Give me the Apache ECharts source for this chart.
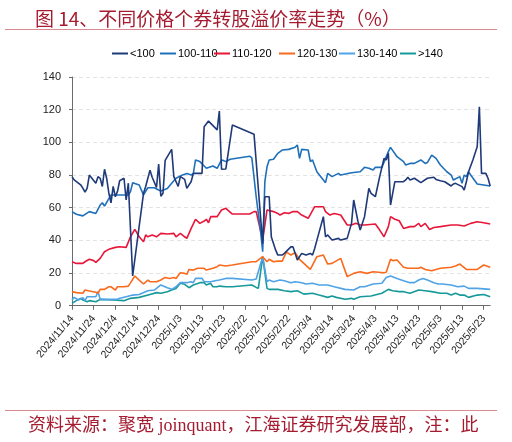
<!DOCTYPE html>
<html><head><meta charset="utf-8">
<script src="https://cdn.jsdelivr.net/npm/echarts@6/dist/echarts.min.js"></script>
<style>html,body{margin:0;padding:0;background:#fff}#c{width:512px;height:442px}</style>
</head><body><div id="c"></div>
<script>
// Dates are "M/D" (Nov/Dec = 2024, others = 2025); values are premium rates (%)
const xTickLabels = ['11/14','11/24','12/4','12/14','12/24','1/3','1/13','1/23','2/2','2/12','2/22','3/4','3/14','3/24','4/3','4/13','4/23','5/3','5/13','5/23'];
const xEnd = '5/26';
const seriesNames = ['<100','100-110','110-120','120-130','130-140','>140'];

const lt100 = [['11/14',79],['11/15',77],['11/18',74],['11/19',72],['11/20',69.5],['11/21',72],['11/22',80],['11/25',75],['11/26',79],['11/27',78],['11/28',73],['11/29',83.5],['11/30',78],['12/1',69],['12/2',63],['12/3',73],['12/4',66.7],['12/5',70],['12/6',76.5],['12/8',78],['12/9',64.7],['12/10',75],['12/12',18.2],['12/17',68.8],['12/18',73],['12/20',83],['12/21',78.6],['12/23',72.4],['12/24',86.7],['12/25',67],['12/26',68.8],['12/27',89],['12/30',95.7],['12/31',79],['1/2',73],['1/3',79],['1/5',77.3],['1/6',71.8],['1/8',76],['1/9',81],['1/13',81],['1/14',109.6],['1/16',113],['1/20',107.6],['1/21',119.2],['1/22',83.5],['1/24',83.7],['1/27',110.6],['2/6',105],['2/10',38],['2/11',66.7],['2/13',66.7],['2/14',42],['2/16',34],['2/17',31],['2/19',31],['2/20',32],['2/23',36],['2/24',36],['2/26',28],['2/28',32],['3/2',31],['3/4',32],['3/5',31],['3/6',35],['3/7',40],['3/10',54.5],['3/11',42.2],['3/12',43.3],['3/14',40.2],['3/17',41.2],['3/18',40.2],['3/21',41.2],['3/23',50.4],['3/24',64.7],['3/26',51.4],['3/27',46.3],['3/29',54.5],['3/31',71.8],['4/1',68.8],['4/3',66.7],['4/5',79],['4/7',90.2],['4/8',89.2],['4/9',93.3],['4/10',61.6],['4/12',75.9],['4/13',75.9],['4/16',75.9],['4/17',77],['4/18',78.6],['4/19',77],['4/21',78],['4/24',75.3],['4/27',78],['4/30',78.6],['5/1',77.3],['5/3',76.5],['5/5',75.9],['5/8',73.3],['5/9',74.5],['5/10',74.9],['5/13',72.9],['5/14',70.8],['5/15',75.9],['5/16',82],['5/18',89.2],['5/20',97.3],['5/21',121.8],['5/22',81],['5/24',81],['5/25',78],['5/26',73.3]];

const r100_110 = [['11/14',57.6],['11/16',56],['11/19',55],['11/22',57.6],['11/25',56.5],['11/27',61.6],['11/28',63],['11/29',61],['12/2',67.8],['12/10',67.8],['12/11',69.8],['12/12',75.3],['12/15',73.9],['12/17',67.8],['12/19',72.2],['12/22',72.2],['12/24',70.8],['12/25',70.2],['12/28',71.8],['12/30',74.9],['1/1',78],['1/4',80],['1/6',81],['1/8',80],['1/9',81],['1/10',89.2],['1/12',88.2],['1/14',85.5],['1/15',84.1],['1/17',85.1],['1/18',85.5],['1/20',84.1],['1/22',89.2],['1/23',88.8],['1/24',88.2],['1/26',89.6],['2/4',91.5],['2/5',90.5],['2/7',66.7],['2/9',46],['2/10',33],['2/11',76],['2/12',85],['2/13',89.2],['2/15',89.6],['2/17',93.3],['2/19',95.3],['2/22',95.7],['2/25',97],['2/26',98.4],['2/27',90.2],['2/28',95.7],['3/3',95.3],['3/4',88.2],['3/5',89.2],['3/7',82],['3/10',76.9],['3/11',75.3],['3/12',81],['3/14',79],['3/17',81],['3/18',80],['3/23',81.4],['3/27',82],['3/29',84.7],['3/31',84.1],['4/2',83],['4/3',84.7],['4/6',84.7],['4/9',94.3],['4/10',96.9],['4/13',91.2],['4/16',88.2],['4/17',86.1],['4/19',87.1],['4/21',87.1],['4/24',89.2],['4/26',87.1],['4/27',87.6],['4/29',92.2],['5/1',90.2],['5/3',86.1],['5/6',82],['5/8',80],['5/9',76.9],['5/12',79],['5/13',74.9],['5/14',80],['5/15',79],['5/16',82],['5/17',80],['5/20',74.5],['5/23',73.9],['5/26',73.3]];

const r110_120 = [['11/14',26.9],['11/16',25.9],['11/19',25.9],['11/20',26.9],['11/22',28.4],['11/24',27.6],['11/25',26.5],['11/27',29],['11/29',33],['12/1',34.5],['12/4',35.7],['12/6',36.1],['12/9',35.7],['12/11',42.2],['12/13',46.7],['12/15',42.2],['12/17',39.2],['12/18',43.3],['12/19',42.2],['12/21',43.3],['12/23',42.2],['12/25',44.3],['12/28',43.9],['12/31',44.3],['1/1',42.2],['1/3',44.3],['1/5',42.2],['1/6',41.2],['1/8',47.3],['1/10',52.9],['1/12',50.4],['1/14',51.8],['1/15',52.9],['1/16',50.8],['1/17',54.5],['1/20',54.5],['1/22',58.6],['1/24',59.6],['1/27',56.1],['2/4',56.1],['2/6',57.6],['2/7',57.6],['2/10',40],['2/12',58.6],['2/15',57.6],['2/17',56.5],['2/18',55.5],['2/20',56.9],['2/22',56.5],['2/24',57.6],['2/26',57.6],['2/28',55.5],['3/3',53.5],['3/6',60.6],['3/10',60.6],['3/11',57.6],['3/13',55.5],['3/15',56.5],['3/18',55.5],['3/21',49.4],['3/23',49.4],['3/25',50.4],['3/27',49.4],['3/29',49.4],['4/3',50],['4/5',46.3],['4/7',42.2],['4/9',48.4],['4/10',54.5],['4/12',52.9],['4/14',52],['4/16',47.3],['4/19',48.4],['4/21',48.4],['4/23',50.4],['4/24',48.4],['4/26',50.4],['4/28',46.7],['4/30',47.9],['5/3',48.4],['5/8',49.4],['5/11',49.4],['5/14',48.8],['5/17',50.4],['5/20',51.4],['5/23',50.8],['5/26',50]];

const r120_130 = [['11/14',8.6],['11/16',8],['11/19',7.6],['11/20',9.6],['11/22',9],['11/25',8.2],['11/26',7.6],['11/27',10],['11/29',10],['12/1',11.6],['12/2',11.6],['12/4',9.6],['12/5',11.6],['12/8',11.6],['12/10',12],['12/11',14],['12/13',18.2],['12/15',15.7],['12/17',13.3],['12/19',15.7],['12/20',14.7],['12/23',14.7],['12/25',15.7],['12/27',17.3],['12/29',16.7],['12/31',17.3],['1/1',16.7],['1/3',20.2],['1/5',19.8],['1/6',19.2],['1/7',22.2],['1/9',21.8],['1/11',22.9],['1/14',22.9],['1/15',21.8],['1/18',22.9],['1/20',23.9],['1/21',24.9],['1/24',24.3],['1/27',24.9],['2/5',26.9],['2/7',27],['2/10',30],['2/12',26.9],['2/13',28.4],['2/15',26.9],['2/17',27.3],['2/19',27.3],['2/21',33],['2/23',31],['2/25',32.4],['2/27',28.4],['3/1',25.9],['3/4',22.2],['3/7',30],['3/10',31],['3/12',25.5],['3/14',25.9],['3/18',29],['3/21',17.8],['3/24',19.8],['3/27',20.8],['3/30',19.8],['4/2',20.8],['4/7',20.2],['4/8',20.5],['4/10',28.4],['4/11',27.6],['4/13',28],['4/16',23.5],['4/18',22.9],['4/23',22.9],['4/24',23.5],['4/26',22.2],['4/29',21.4],['5/3',22.9],['5/8',23.5],['5/10',24.3],['5/12',25.5],['5/15',22.2],['5/20',22.2],['5/23',24.9],['5/26',23.5]];

const r130_140 = [['11/14',3.5],['11/15',5.1],['11/17',3.5],['11/19',4.9],['11/20',3.1],['11/21',5.5],['11/25',5.5],['11/26',8.6],['11/27',3.9],['11/30',3.9],['12/5',3.9],['12/6',4.5],['12/9',5.5],['12/12',6.5],['12/15',6.9],['12/19',9.2],['12/22',9.6],['12/25',12.7],['12/28',11],['12/30',10],['1/1',11.6],['1/3',14.1],['1/6',14.1],['1/8',14.7],['1/9',14.1],['1/10',16.7],['1/13',16.7],['1/14',14.7],['1/17',14.7],['1/19',15.3],['1/21',15.7],['1/24',16.7],['1/27',16.7],['2/5',15.7],['2/7',16.4],['2/10',30],['2/12',14.7],['2/13',15.7],['2/15',14.7],['2/18',15.7],['2/20',15.3],['2/23',14.1],['2/25',14.7],['2/28',14.1],['3/2',13.3],['3/5',13.7],['3/8',12.7],['3/12',12.7],['3/15',11.6],['3/20',10],['3/24',9.6],['3/27',11.6],['3/29',11.6],['4/2',13.3],['4/6',13.7],['4/8',17.3],['4/10',18.2],['4/13',16.7],['4/16',15.3],['4/19',14.1],['4/21',14.1],['4/23',15.7],['4/25',16.7],['4/27',15.7],['4/30',14.1],['5/2',13.3],['5/4',13.3],['5/8',12.7],['5/11',11.6],['5/14',12],['5/16',10.6],['5/20',10.6],['5/26',10]];

const gt140 = [['11/14',1.4],['11/16',3.1],['11/18',4.5],['11/19',3.5],['11/21',2.4],['11/22',3.1],['11/25',2.4],['11/27',3.9],['12/3',3.5],['12/8',3.1],['12/11',4.5],['12/15',5.1],['12/20',6.9],['12/23',8],['12/25',7.6],['12/28',8.6],['12/30',9.6],['1/1',10.6],['1/3',13.7],['1/5',13.1],['1/7',11],['1/9',12.7],['1/12',14.1],['1/14',14.1],['1/15',12.7],['1/17',13.7],['1/18',11.6],['1/20',11.6],['1/21',12],['1/24',11.6],['1/27',11.6],['2/5',12.7],['2/7',11.2],['2/8',10.6],['2/10',30],['2/12',10.6],['2/13',10],['2/17',10],['2/20',9.2],['2/23',8.6],['2/26',9.2],['3/1',7.1],['3/5',7.6],['3/8',6.5],['3/12',5.1],['3/14',5.9],['3/16',5.1],['3/20',3.9],['3/23',4.5],['3/24',3.9],['3/27',5.5],['4/1',5.9],['4/6',7.6],['4/9',10],['4/11',9.2],['4/14',8.6],['4/16',8.6],['4/19',7.6],['4/23',9.6],['4/26',9.2],['4/29',8.6],['5/3',7.6],['5/6',7.6],['5/8',6.5],['5/10',7.6],['5/12',6.5],['5/14',6.5],['5/16',5.1],['5/20',6.5],['5/23',6.9],['5/26',5.5]];

const seriesData = [lt100, r100_110, r110_120, r120_130, r130_140, gt140];
const colors = ['#1F3A78','#1E70BA','#E8173A','#FA6A1C','#4FA3E6','#17999A'];
const legendLeft = [107,155,209,274,334,395];

const START = Date.UTC(2024,10,14);
function dayOf(md){const p=md.split('/').map(Number);const y=p[0]>=11?2024:2025;return (Date.UTC(y,p[0]-1,p[1])-START)/86400000;}
function fmt(v){const d=new Date(START+v*86400000);return d.getUTCFullYear()+'/'+(d.getUTCMonth()+1)+'/'+d.getUTCDate();}
const tickVals = xTickLabels.map(dayOf);
const narrow = "'Liberation Sans Narrow','Arial Narrow','Liberation Sans',sans-serif";

const chart = echarts.init(document.getElementById('c'), null, {renderer:'canvas'});
chart.setOption({
  animation:false,
  backgroundColor:'#fff',
  title:{text:'图 14、不同价格个券转股溢价率走势（%）',left:30,top:4,
    textStyle:{fontSize:19,color:'#A51C30',fontWeight:'normal',fontFamily:"'Noto Sans CJK SC'"}},
  legend: seriesNames.map((n,i)=>({data:[n],left:legendLeft[i],top:43,icon:'rect',itemWidth:16,itemHeight:2,
    textStyle:{fontSize:11,color:'#000',fontFamily:narrow,padding:[0,0,0,-3]}})),
  grid:{left:72,right:21.8,top:77,bottom:136.3,containLabel:false},
  xAxis:{type:'value',min:0,max:dayOf(xEnd),
    axisLine:{lineStyle:{color:'#6b6b6b',width:1}},
    axisTick:{customValues:tickVals,length:4,lineStyle:{color:'#6b6b6b'}},
    axisLabel:{customValues:tickVals,formatter:fmt,rotate:50,fontSize:10.5,color:'#222',margin:11,fontFamily:"'Liberation Sans',sans-serif"},
    splitLine:{show:false}},
  yAxis:{type:'value',min:0,max:140,interval:20,
    axisLine:{show:true,lineStyle:{color:'#6b6b6b'}},
    axisTick:{show:true,length:3,lineStyle:{color:'#6b6b6b'}},
    axisLabel:{fontSize:11,color:'#222',margin:11,fontFamily:narrow},
    splitLine:{lineStyle:{color:'#e3e3e3',type:[4,3]}}},
  series: seriesNames.map((n,i)=>({name:n,type:'line',showSymbol:false,symbol:'none',
    data:seriesData[i].map(p=>[dayOf(p[0]),p[1]]),
    itemStyle:{color:colors[i]},lineStyle:{color:colors[i],width:1.6},z:10-i})),
  graphic:[
    {type:'line',shape:{x1:5,y1:29.5,x2:497,y2:29.5},style:{stroke:'#D98A93',lineWidth:1}},
    {type:'line',shape:{x1:5,y1:410.5,x2:497,y2:410.5},style:{stroke:'#D98A93',lineWidth:1}},
    {type:'text',left:28,top:417,style:{text:'资料来源：聚宽 joinquant，江海证券研究发展部，注：此',
      fontSize:18,fill:'#A51C30',fontFamily:"'Liberation Serif','Noto Sans CJK SC',serif"}}
  ]
});
</script></body></html>
